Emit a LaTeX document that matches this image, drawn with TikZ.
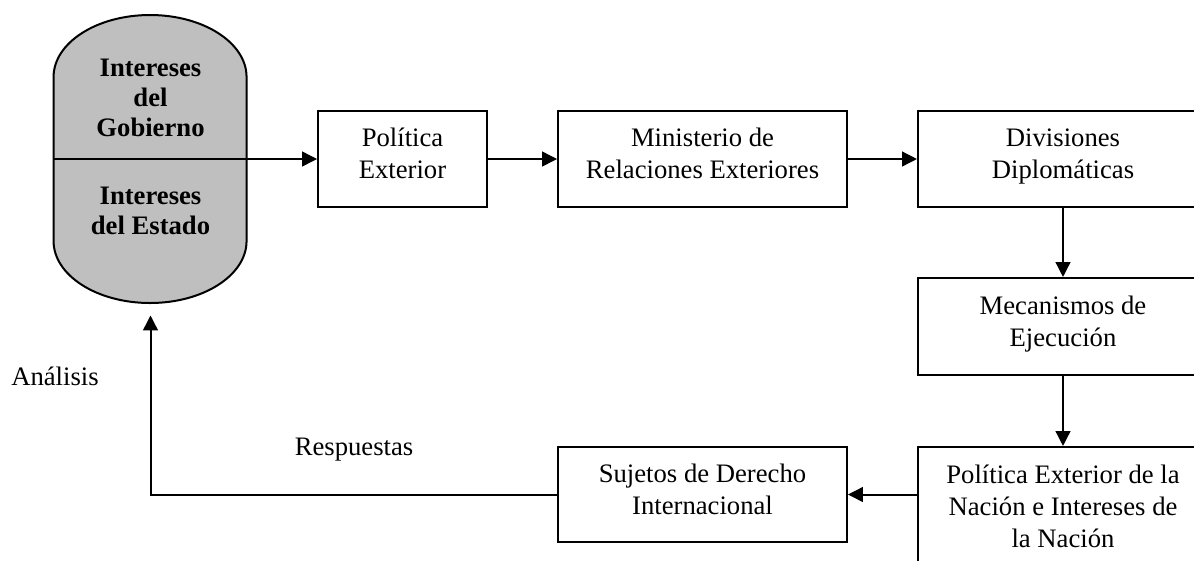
\documentclass[tikz,border=0pt]{standalone}
\usepackage{fontspec}
\setmainfont{Liberation Serif}
\usetikzlibrary{arrows.meta}

\begin{document}
\begin{tikzpicture}[
  x=0.45pt, y=-0.45pt,
  >={Triangle[length=6.7pt,width=6.6pt]},
  % Styles
  caja/.style={draw, line width=0.9pt, minimum width=130.5pt, minimum height=43.2pt,
               inner sep=0pt, align=center, text depth=5pt,
               font=\fontsize{12}{14.4}\selectfont},
  interes/.style={align=center, inner sep=0pt, font=\fontsize{12}{13.5}\selectfont\bfseries},
  etiqueta/.style={inner sep=0pt, font=\fontsize{12}{14.4}\selectfont},
  flujo/.style={->, line width=0.9pt}
]
\useasboundingbox (0,0) rectangle (1194,560);

% --- 1. Intereses (pill) ---
\node[minimum width=86.85pt, minimum height=129.6pt, inner sep=0pt] (intereses) at (150.5,159) {};
\draw[line width=0.9pt, fill=black!25] (intereses.west) ++(0,-82)
  arc[start angle=180, end angle=0, x radius=43.425pt, y radius=27.9pt] -- ++(0,164)
  arc[start angle=0, end angle=-180, x radius=43.425pt, y radius=27.9pt] -- cycle;
\draw[line width=0.9pt] (intereses.west) -- (intereses.east);
\node[interes] (gobierno) at (150.5,98) {Intereses\\del\\Gobierno};
\node[interes] (estado) at (150.5,211) {Intereses\\del Estado};

% --- 2. Top row ---
\node[caja, minimum width=76pt] (politica) at (402.5,159) {Política\\Exterior};
\node[caja, minimum width=130pt] (ministerio) at (702.5,159) {Ministerio de\\Relaciones Exteriores};
\node[caja] (divisiones) at (1063,159) {Divisiones\\Diplomáticas};

% --- 3. Right column ---
\node[caja, minimum height=43.65pt] (mecanismos) at (1063,326.5) {Mecanismos de\\Ejecución};
\node[caja, minimum height=58.5pt] (nacion) at (1063,512) {Política Exterior de la\\Nación e Intereses de\\la Nación};

% --- 4. Bottom row ---
\node[caja, minimum width=130pt, minimum height=42.75pt] (sujetos) at (702.5,494.5) {Sujetos de Derecho\\Internacional};

% Labels
\node[etiqueta] (analisis) at (55,376) {Análisis};
\node[etiqueta] (respuestas) at (354,450) {Respuestas};

% --- 5. Flow Arrows ---
\draw[flujo] (intereses.east) -- (politica.west);
\draw[flujo] (politica.east) -- (ministerio.west);
\draw[flujo] (ministerio.east) -- (divisiones.west);
\draw[flujo] (divisiones.south) -- (mecanismos.north);
\draw[flujo] (mecanismos.south) -- (nacion.north);
\draw[flujo] (nacion.west |- sujetos.east) -- (sujetos.east);

% Feedback to the interests
\draw[flujo, shorten >=5.4pt] (sujetos.west) -| (intereses.south);

\end{tikzpicture}
\end{document}
